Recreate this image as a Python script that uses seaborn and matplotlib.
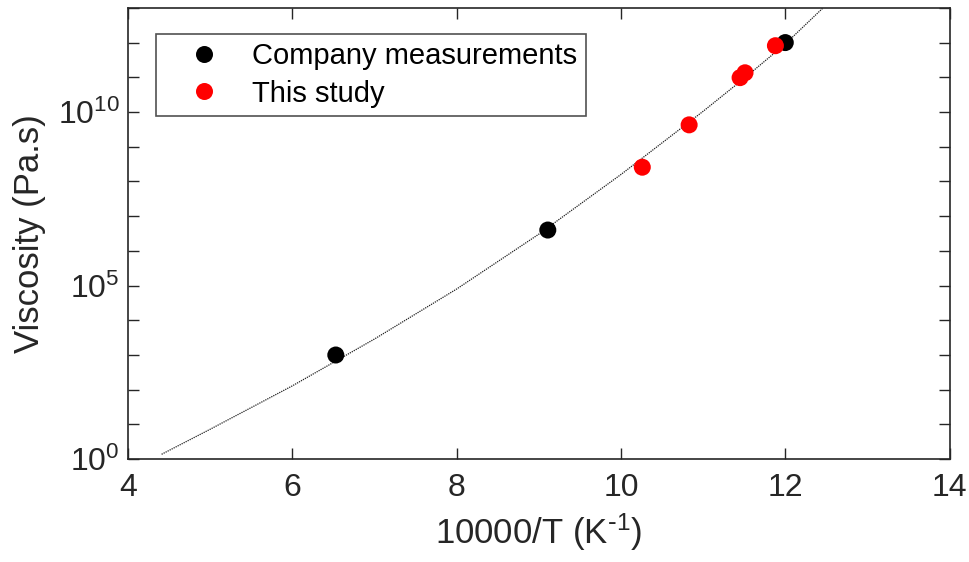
import numpy as np
import pandas as pd
import matplotlib
matplotlib.use("Agg")
import matplotlib.pyplot as plt
import matplotlib.ticker as mticker
import seaborn as sns

# Measured viscosities, given as 10000/T (1/K) and log10(viscosity / Pa.s)
company_x = [6.53, 9.11, 12.0]
company_log = [3.0, 6.6, 12.0]

study_x = [10.26, 10.83, 11.45, 11.51, 11.88]
study_log = [8.41, 9.63, 10.99, 11.13, 11.91]

# Fitted viscosity curve, sampled along 10000/T
fit_x = [4.41, 5.0, 6.0, 7.0, 8.0, 9.0, 10.0, 11.0, 11.5, 12.0, 12.46]
fit_log = [0.14, 0.86, 2.11, 3.46, 4.9, 6.48, 8.2, 10.02, 10.97, 11.96, 13.0]

labels = ["Company measurements", "This study"]
x_ticks = [4, 6, 8, 10, 12, 14]
y_major_exp = [0, 5, 10]

sns.set_style("white")
plt.rcParams["font.family"] = ["Liberation Sans", "DejaVu Sans"]
plt.rcParams["mathtext.default"] = "regular"

ink = "#262626"

points = pd.DataFrame({
    "x": company_x + study_x,
    "eta": [10.0 ** v for v in company_log + study_log],
    "source": [labels[0]] * len(company_x) + [labels[1]] * len(study_x),
})
curve = pd.DataFrame({"x": fit_x, "eta": [10.0 ** v for v in fit_log]})

fig = plt.figure(figsize=(9.69, 5.62), dpi=100)
ax = fig.add_axes([0.132, 0.183, 0.848, 0.803])

sns.lineplot(data=curve, x="x", y="eta", ax=ax, color="#202020",
             linestyle=(0, (1, 0.8)), linewidth=0.9, sort=False,
             estimator=None, legend=False, zorder=1)
sns.scatterplot(data=points, x="x", y="eta", hue="source", ax=ax,
                palette={labels[0]: "black", labels[1]: "#ff0000"},
                s=150, edgecolor="none", zorder=3)

ax.set_yscale("log")
ax.set_xlim(4, 14)
ax.set_ylim(1, 1e13)
ax.set_xticks(x_ticks)
ax.set_xticklabels([str(t) for t in x_ticks])
ax.yaxis.set_major_locator(mticker.FixedLocator([10.0 ** e for e in y_major_exp]))
ax.yaxis.set_major_formatter(mticker.FuncFormatter(
    lambda v, p: r"$10^{%d}$" % round(np.log10(v))))
ax.yaxis.set_minor_locator(mticker.FixedLocator([10.0 ** e for e in range(0, 14)]))
ax.yaxis.set_minor_formatter(mticker.NullFormatter())

ax.tick_params(axis="both", which="both", direction="in",
               left=True, bottom=True, top=True, right=True,
               length=8, width=1.0, color=ink, labelcolor=ink, labelsize=23)
ax.tick_params(axis="x", pad=10)
ax.tick_params(axis="y", pad=6)
for sp in ax.spines.values():
    sp.set_color(ink)
    sp.set_linewidth(1.2)

ax.set_xlabel(r"10000/T (K$^{\text{-}1}$)", fontsize=25, color=ink, labelpad=6)
ax.set_ylabel("Viscosity (Pa.s)", fontsize=25, color=ink, labelpad=8)

leg = ax.legend(loc="upper left", bbox_to_anchor=(0.034, 0.943), fontsize=21,
                frameon=True, fancybox=False, edgecolor=ink, markerscale=1.0,
                handletextpad=0.3, borderpad=0.3, labelspacing=0.32,
                handlelength=2.7, borderaxespad=0)
leg.get_frame().set_linewidth(1.2)
for t in leg.get_texts():
    t.set_color("black")

fig.savefig("out.png", dpi=100, facecolor="white")
